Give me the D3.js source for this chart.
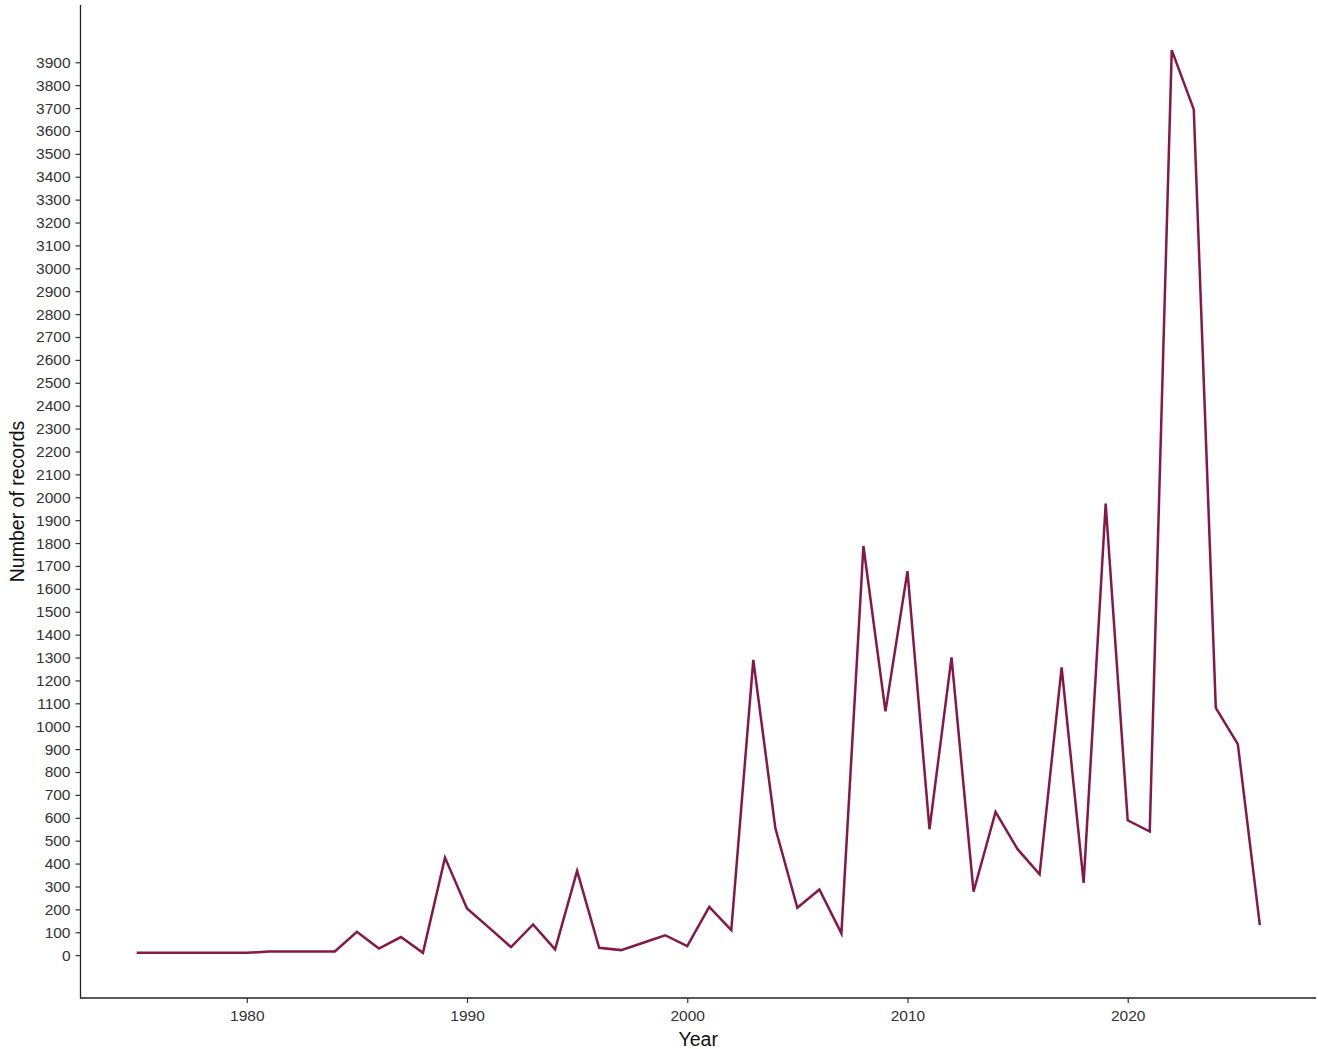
<!DOCTYPE html>
<html>
<head>
<meta charset="utf-8">
<script src="https://cdn.jsdelivr.net/npm/d3@7"></script>
<style>
  body { margin: 0; background: #fff; }
  svg { display: block; font-family: "Liberation Sans", Arial, sans-serif; }
</style>
</head>
<body>
<div id="vis"></div>
<script>
// records per year
const years = [1975, 1976, 1977, 1978, 1979, 1980, 1981, 1982, 1983, 1984,
  1985, 1986, 1987, 1988, 1989, 1990, 1991, 1992, 1993, 1994,
  1995, 1996, 1997, 1998, 1999, 2000, 2001, 2002, 2003, 2004,
  2005, 2006, 2007, 2008, 2009, 2010, 2011, 2012, 2013, 2014,
  2015, 2016, 2017, 2018, 2019, 2020, 2021, 2022, 2023, 2024,
  2025, 2026];
const records = [10, 10, 10, 10, 10, 10, 16, 16, 16, 16,
  102, 29, 79, 10, 426, 204, 120, 35, 134, 25,
  368, 32, 22, 54, 87, 39, 211, 109, 1290, 555,
  207, 287, 95, 1787, 1065, 1677, 550, 1301, 277, 626,
  463, 353, 1257, 316, 1972, 589, 540, 3953, 3694, 1080,
  922, 131];

const xTicks = [1980, 1990, 2000, 2010, 2020];
const yTicks = [0, 100, 200, 300, 400, 500, 600, 700, 800, 900,
  1000, 1100, 1200, 1300, 1400, 1500, 1600, 1700, 1800, 1900,
  2000, 2100, 2200, 2300, 2400, 2500, 2600, 2700, 2800, 2900,
  3000, 3100, 3200, 3300, 3400, 3500, 3600, 3700, 3800, 3900];

const W = 1318, H = 1049;
const plot = { left: 80.5, right: 1316, top: 5, bottom: 998 };
const lineColour = "#861848";

const data = years.map((y, i) => ({ year: y, n: records[i] }));

// ggplot-style 5% padding around the data range
const xPad = (d3.max(years) - d3.min(years)) * 0.05;
const yPad = (d3.max(records) - d3.min(records)) * 0.05;

const x = d3.scaleLinear()
  .domain([d3.min(years) - xPad, d3.max(years) + xPad])
  .range([plot.left, plot.right]);
const y = d3.scaleLinear()
  .domain([d3.min(records) - yPad, d3.max(records) + yPad])
  .range([plot.bottom, plot.top]);

const svg = d3.select("#vis").append("svg")
  .attr("width", W)
  .attr("height", H);

// axes
const xAxis = svg.append("g")
  .attr("transform", `translate(0,${plot.bottom})`)
  .call(d3.axisBottom(x).tickValues(xTicks).tickFormat(d3.format("d")).tickSize(5).tickPadding(7));
const yAxis = svg.append("g")
  .attr("transform", `translate(${plot.left},0)`)
  .call(d3.axisLeft(y).tickValues(yTicks).tickFormat(d3.format("d")).tickSize(5).tickPadding(5));

[xAxis, yAxis].forEach(g => {
  g.select(".domain").remove();
  g.selectAll(".tick line").attr("stroke", "#333").attr("stroke-width", 1.2);
  g.selectAll(".tick text")
    .attr("fill", "#333")
    .style("font-size", "15.5px")
    .style("font-family", "'Liberation Sans', Arial, sans-serif");
});

// axis lines (theme_classic)
svg.append("line")
  .attr("x1", plot.left).attr("x2", plot.left)
  .attr("y1", plot.top).attr("y2", plot.bottom + 0.5)
  .attr("stroke", "#222").attr("stroke-width", 1.3);
svg.append("line")
  .attr("x1", plot.left - 0.5).attr("x2", plot.right)
  .attr("y1", plot.bottom).attr("y2", plot.bottom)
  .attr("stroke", "#222").attr("stroke-width", 1.3);

// the series
svg.append("path")
  .datum(data)
  .attr("fill", "none")
  .attr("stroke", lineColour)
  .attr("stroke-width", 2.5)
  .attr("stroke-linejoin", "miter")
  .attr("d", d3.line().x(d => x(d.year)).y(d => y(d.n)));

// titles
svg.append("text")
  .attr("x", (plot.left + plot.right) / 2)
  .attr("y", 1046)
  .attr("text-anchor", "middle")
  .style("font-size", "19.5px")
  .attr("fill", "#111")
  .text("Year");

svg.append("text")
  .attr("transform", `translate(24,${(plot.top + plot.bottom) / 2}) rotate(-90)`)
  .attr("text-anchor", "middle")
  .style("font-size", "19.5px")
  .attr("fill", "#111")
  .text("Number of records");
</script>
</body>
</html>
